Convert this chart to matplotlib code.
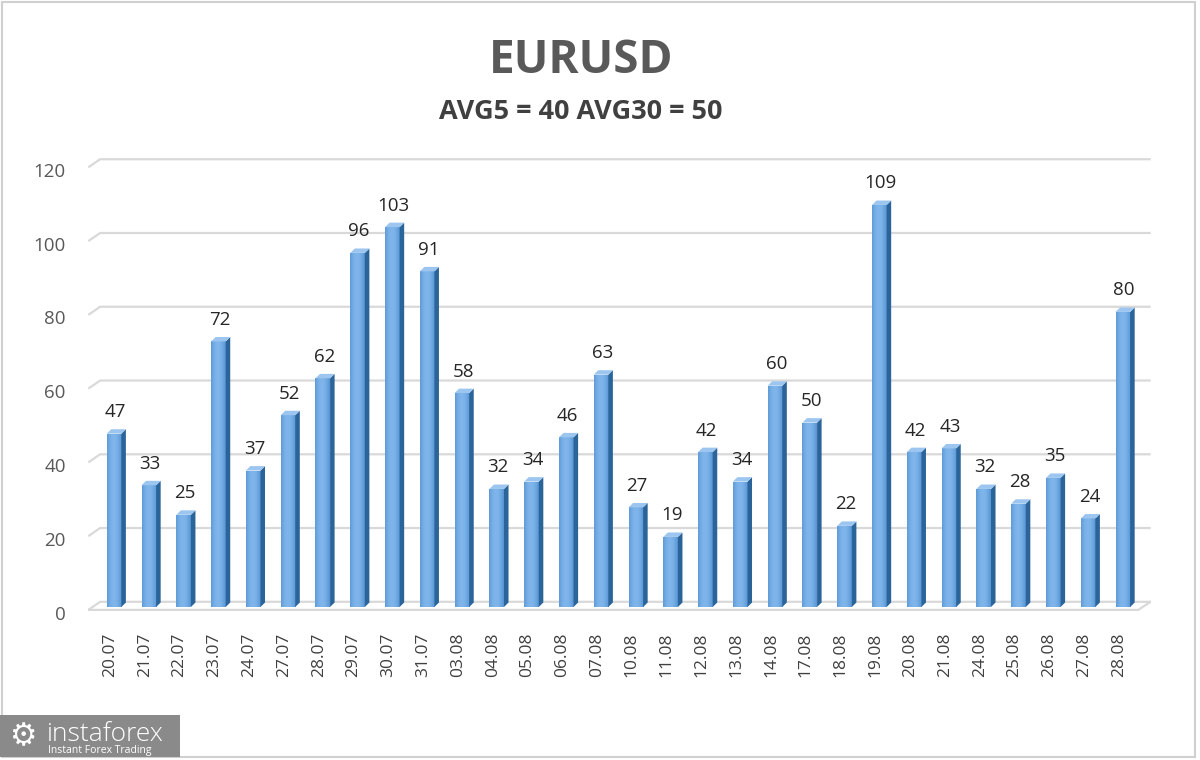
import numpy as np
import matplotlib
matplotlib.use("Agg")
import matplotlib.pyplot as plt
from matplotlib.patches import Polygon, Rectangle
from matplotlib.transforms import ScaledTranslation

# values
dates = ["20.07", "21.07", "22.07", "23.07", "24.07", "27.07", "28.07", "29.07", "30.07", "31.07",
         "03.08", "04.08", "05.08", "06.08", "07.08", "10.08", "11.08", "12.08", "13.08", "14.08",
         "17.08", "18.08", "19.08", "20.08", "21.08", "24.08", "25.08", "26.08", "27.08", "28.08"]
ranges = [47, 33, 25, 72, 37, 52, 62, 96, 103, 91,
          58, 32, 34, 46, 63, 27, 19, 42, 34, 60,
          50, 22, 109, 42, 43, 32, 28, 35, 24, 80]
y_ticks = [0, 20, 40, 60, 80, 100, 120]
title = "EURUSD"
subtitle = "AVG5 = 40 AVG30 = 50"

plt.rcParams['font.family'] = ['Open Sans', 'DejaVu Sans']

fig = plt.figure(figsize=(12, 7.6), dpi=100)
ax = fig.add_axes([0.0733, 0.1965, 0.8856, 0.5969])
ax.set_xlim(-0.75, 29.8)
ax.set_ylim(-1, 122)
for s in ax.spines.values():
    s.set_visible(False)

X = np.arange(len(dates))
W = 0.42
dx, dy = 0.13, 1.2      # fake 3d depth in data units
grid_c = "#d9d9d9"

# back wall gridlines with a little diagonal on the left
for v in y_ticks:
    ax.plot([-0.74, -0.4, 29.8], [v - 0.8, v + 1.4, v + 1.4], color=grid_c, lw=1.6, zorder=0,
            solid_capstyle='butt')
# floor front edge
ax.plot([-0.74, 29.44, 29.8], [-0.8, -0.8, 1.4], color=grid_c, lw=1.6, zorder=0)

bars = ax.bar(X, ranges, W, color="#6aa6e0", edgecolor="none", zorder=3)

# horizontal gradient on front faces
grad = np.linspace(0, 1, 64)
shade = 0.55 + 0.45 * np.sin(np.pi * (0.15 + 0.75 * grad))
cmap = matplotlib.colors.LinearSegmentedColormap.from_list("b", ["#3d80c6", "#7fb5ea"])
for b in bars:
    x0, h = b.get_x(), b.get_height()
    im = ax.imshow(shade[None, :], cmap=cmap, vmin=0.5, vmax=1.0, aspect='auto',
                   extent=[x0, x0 + W, 0, h], zorder=3.1, interpolation='bilinear')
    im.set_clip_path(b)

# side and top faces
for x, v in zip(X, ranges):
    r = x + W / 2
    l = x - W / 2
    ax.add_patch(Polygon([(r, 0), (r + dx, dy), (r + dx, v + dy), (r, v)],
                         closed=True, facecolor="#2b6499", edgecolor="none", zorder=3.2))
    ax.add_patch(Polygon([(l, v), (r, v), (r + dx, v + dy), (l + dx, v + dy)],
                         closed=True, facecolor="#9cc6ef", edgecolor="none", zorder=3.2))
    ax.annotate(str(v), (x, v), xytext=(1, 9), textcoords="offset points",
                ha="center", va="bottom", fontsize=13.5, color="#262626", zorder=4)

ax.set_yticks(y_ticks)
ax.set_yticklabels([str(t) for t in y_ticks], fontsize=13.5, color="#595959")
ax.tick_params(axis='y', length=0, pad=16)
ax.set_xticks(X)
ax.set_xticklabels(dates, rotation=90, fontsize=12.5, color="#404040")
ax.tick_params(axis='x', length=0, pad=16)
for lab in ax.get_yticklabels():
    lab.set_transform(lab.get_transform() + ScaledTranslation(0, -4 / 72, fig.dpi_scale_trans))
for lab in ax.get_xticklabels():
    lab.set_transform(lab.get_transform() + ScaledTranslation(-4 / 100, 0, fig.dpi_scale_trans))

fig.text(0.484, 0.92, title, ha="center", va="center", fontsize=33, fontweight="bold",
         color="#595959")
fig.text(0.484, 0.853, subtitle, ha="center", va="center", fontsize=19.5, fontweight="bold",
         color="#404040")

# light frame around the chart
fig.patches.append(Rectangle((0.002, 0.004), 0.994, 0.993, transform=fig.transFigure,
                             fill=False, edgecolor="#d0d0d0", lw=1.5))

# watermark
fig.patches.append(Rectangle((0, 0.004), 0.15, 0.055, transform=fig.transFigure,
                             facecolor="#8a8a8a", edgecolor="none"))
fig.text(0.019, 0.031, "\u2699", ha="center", va="center", fontsize=22, color="white",
         family="DejaVu Sans")
fig.text(0.039, 0.0255, "instaforex", ha="left", va="baseline", fontsize=19, color="white",
         fontweight="light")
fig.text(0.040, 0.0125, "Instant Forex Trading", ha="left", va="center", fontsize=7.5,
         color="white")

fig.savefig("out.png", dpi=100)
